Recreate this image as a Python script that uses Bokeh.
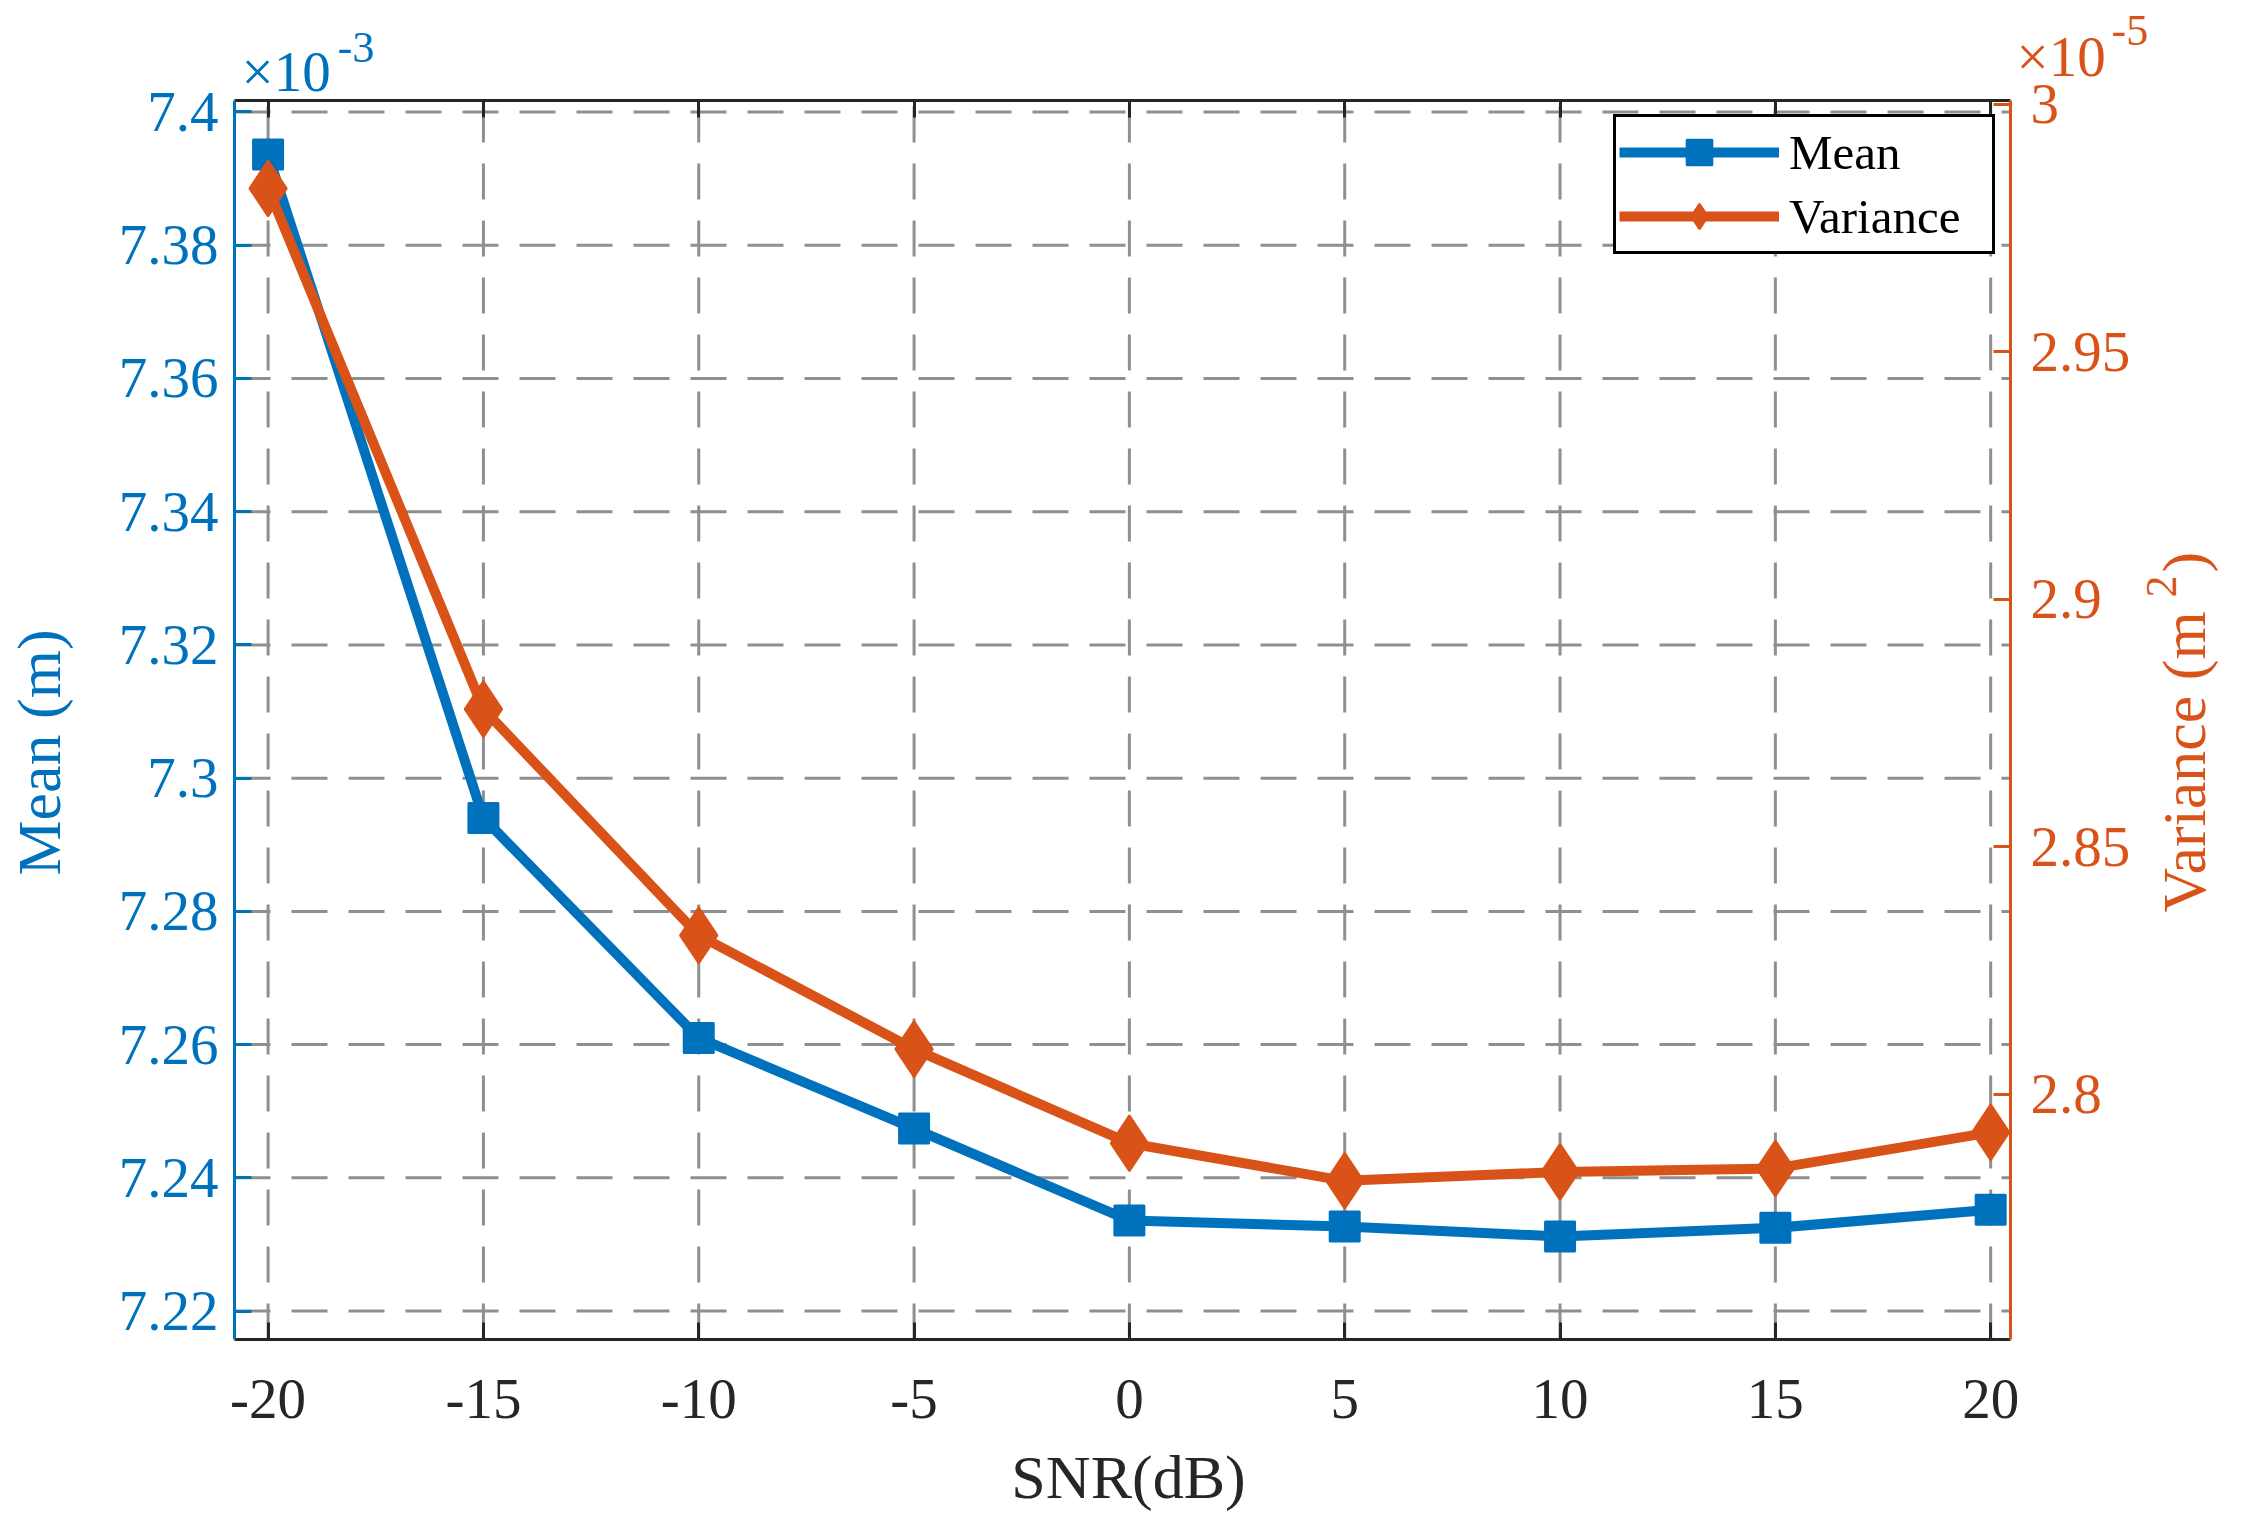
from bokeh.plotting import figure
from bokeh.models import (Range1d, LinearAxis, FixedTicker, Label, Legend, LegendItem)
from bokeh.embed import file_html
from bokeh.resources import INLINE
import math

# ---------------- data ----------------
snr_db = [-20, -15, -10, -5, 0, 5, 10, 15, 20]
mean_e3 = [7.3936, 7.2940, 7.2610, 7.2474, 7.2336, 7.2327, 7.2312, 7.2325, 7.2352]   # x 1e-3 m
var_e5 = [2.9830, 2.8778, 2.8321, 2.8091, 2.7901, 2.7825, 2.7843, 2.7850, 2.7923]    # x 1e-5 m^2

x_ticks = [-20, -15, -10, -5, 0, 5, 10, 15, 20]
x_tick_labels = ["-20", "-15", "-10", "-5", "0", "5", "10", "15", "20"]
mean_ticks = [7.22, 7.24, 7.26, 7.28, 7.30, 7.32, 7.34, 7.36, 7.38, 7.40]
mean_tick_labels = ["7.22", "7.24", "7.26", "7.28", "7.3", "7.32", "7.34", "7.36", "7.38", "7.4"]
var_ticks = [2.80, 2.85, 2.90, 2.95, 3.00]
var_tick_labels = ["2.8", "2.85", "2.9", "2.95", "3"]

# ---------------- style ----------------
BLUE = "#0072BD"
ORANGE = "#D95319"
DARK = "#262626"
GRID = "#8f8f8f"
FONT = "Liberation Serif"

# axes limits of the plot box
XS, XE = -20.78, 20.46
YS, YE = 7.21574, 7.40171
VS, VE = 2.75044, 3.00077

# canvas / plot box in page pixels
W, H = 2231, 1513
C0 = 8                       # page margin
L, R, T, B = 242.0, 2018.0, 108.0, 1347.0

per_x = (XE - XS) / (R - L)
FXS = XS - (L - C0) * per_x
FXE = XE + (C0 + W - R) * per_x
per_y = (YE - YS) / (B - T)
FYE = YE + (T - C0) * per_y
FYS = YS - (C0 + H - B) * per_y
per_v = (VE - VS) / (B - T)
FVE = VE + (T - C0) * per_v
FVS = VS - (C0 + H - B) * per_v


def xd(px):
    return FXS + (px - C0) * per_x


def yd(py):
    return FYE - (py - C0) * per_y


p = figure(width=W, height=H,
           x_range=Range1d(FXS, FXE), y_range=Range1d(FYS, FYE),
           output_backend="svg", toolbar_location=None,
           min_border_left=0, min_border_right=0,
           min_border_top=0, min_border_bottom=0)
p.title.visible = False
p.extra_y_ranges = {"var": Range1d(FVS, FVE)}
p.outline_line_color = None
p.background_fill_color = "white"
p.border_fill_color = "white"
p.xgrid.visible = False
p.ygrid.visible = False

# dashed grid lines at the tick positions
p.segment(x0=x_ticks, y0=[YS] * len(x_ticks), x1=x_ticks, y1=[YE] * len(x_ticks),
          line_color=GRID, line_width=3, line_dash="36 21")
p.segment(x0=[XS] * len(mean_ticks), y0=mean_ticks, x1=[XE] * len(mean_ticks), y1=mean_ticks,
          line_color=GRID, line_width=3, line_dash="36 21")


def style_axis(ax, color, label_color):
    ax.axis_line_color = color
    ax.axis_line_width = 3
    ax.major_tick_line_color = color
    ax.major_tick_line_width = 3
    ax.major_tick_in = 17
    ax.major_tick_out = 0
    ax.minor_tick_line_color = None
    ax.major_label_text_font = FONT
    ax.major_label_text_font_size = "57px"
    ax.major_label_text_color = label_color
    ax.major_label_standoff = 20


# bottom x axis
xax = p.xaxis[0]
xax.ticker = FixedTicker(ticks=x_ticks)
xax.major_label_overrides = {t: s for t, s in zip(x_ticks, x_tick_labels)}
xax.fixed_location = YS
xax.bounds = (XS, XE)
style_axis(xax, DARK, DARK)
xax.major_label_standoff = 40

# top axis (box)
top = LinearAxis(ticker=FixedTicker(ticks=x_ticks), fixed_location=YE, bounds=(XS, XE))
style_axis(top, DARK, DARK)
top.major_label_overrides = {t: "" for t in x_ticks}
p.add_layout(top, "above")

# left y axis
yax = p.yaxis[0]
yax.ticker = FixedTicker(ticks=mean_ticks)
yax.major_label_overrides = {t: s for t, s in zip(mean_ticks, mean_tick_labels)}
yax.fixed_location = XS
yax.bounds = (YS, YE)
style_axis(yax, BLUE, BLUE)
yax.major_label_standoff = 16

# right y axis
rax = LinearAxis(y_range_name="var", ticker=FixedTicker(ticks=var_ticks),
                 fixed_location=XE, bounds=(VS, VE))
rax.major_label_overrides = {t: s for t, s in zip(var_ticks, var_tick_labels)}
style_axis(rax, ORANGE, ORANGE)
p.add_layout(rax, "right")

# data
l1 = p.line(snr_db, mean_e3, line_color=BLUE, line_width=10)
s1 = p.scatter(snr_db, mean_e3, marker="square", size=30, fill_color=BLUE,
               line_color=BLUE, line_width=2)
l2 = p.line(snr_db, var_e5, line_color=ORANGE, line_width=10, y_range_name="var")
s2 = p.scatter(snr_db, var_e5, marker="diamond", size=56, fill_color=ORANGE,
               line_color=ORANGE, line_width=2, y_range_name="var")

# legend (location relative to canvas bottom-left)
legend = Legend(items=[LegendItem(label="Mean", renderers=[l1, s1]),
                       LegendItem(label="Variance", renderers=[l2, s2])],
                location=(int(1621 - C0), int(C0 + H - 262)),
                glyph_width=160, glyph_height=64, spacing=0, padding=3,
                label_standoff=10, label_width=200,
                label_text_font=FONT, label_text_font_size="49px",
                label_text_color="black",
                border_line_color="black", border_line_width=3, border_line_alpha=1.0,
                background_fill_color="white", background_fill_alpha=1.0)
p.add_layout(legend)


# axis titles and exponents (anchored at the vertical middle of the text)
MID_H = 0.27
MID_V = 0.25


def add_label(text, px, py, size, color, angle=0.0, align="left"):
    s = float(size.replace("px", ""))
    if angle == 0.0:
        ax_, ay_ = px, py - MID_H * s
    else:
        ax_, ay_ = px - MID_V * s, py
    p.add_layout(Label(x=xd(ax_), y=yd(ay_), text=text, angle=angle,
                       text_font=FONT, text_font_size=size, text_color=color,
                       text_align=align, text_baseline="middle"))


add_label("SNR(dB)", 1136, 1501, "62px", DARK, align="center")
add_label("Mean (m)", 62, 760, "62px", BLUE, angle=math.pi / 2, align="center")
add_label("Variance (m", 2207, 920, "62px", ORANGE, angle=math.pi / 2)
add_label("2", 2180, 605, "44px", ORANGE, angle=math.pi / 2)
add_label(")", 2207, 580, "62px", ORANGE, angle=math.pi / 2)

add_label("\u00d710", 249, 94, "57px", BLUE)
add_label("-3", 345, 67, "44px", BLUE)
add_label("\u00d710", 2024, 79, "57px", ORANGE)
add_label("-5", 2119, 50, "44px", ORANGE)

open("out.html", "w").write(file_html(p, INLINE))
